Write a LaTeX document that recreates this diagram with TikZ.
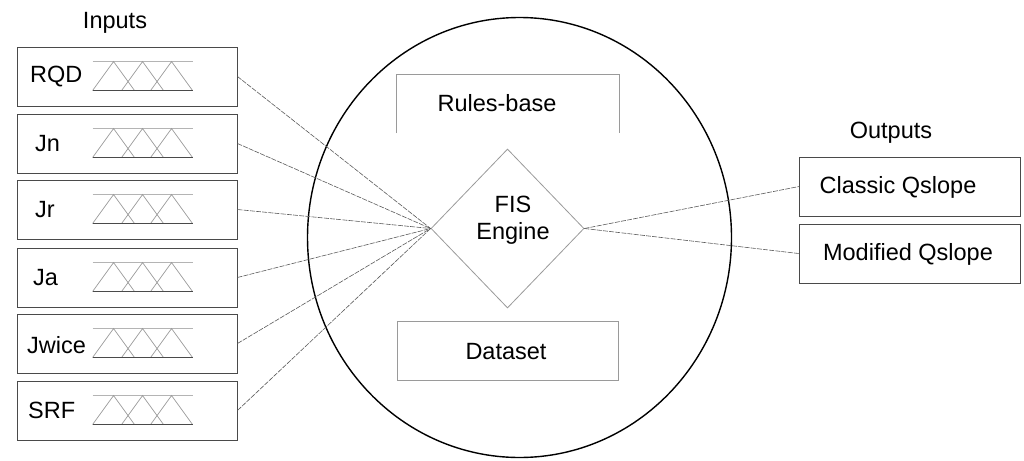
\documentclass[tikz,border=0pt]{standalone}
\usepackage{fontspec}
\setmainfont{Liberation Sans}
\usetikzlibrary{shapes.geometric}

\definecolor{boxgray}{HTML}{4A4A4A}
\definecolor{softgray}{HTML}{9A9A9A}
\definecolor{guidegray}{HTML}{B4B4B4}
\definecolor{linegray}{HTML}{5A5A5A}

\tikzset{
  txt/.style={font=\fontsize{23.5}{27}\selectfont, inner sep=0pt, align=center},
  inbox/.style={draw=boxgray, line width=0.9pt, minimum width=220pt,
                minimum height=59pt, inner sep=0pt},
  outbox/.style={inbox, minimum width=221pt},
  midbox/.style={draw=softgray, line width=0.9pt, minimum width=221pt,
                 minimum height=59pt, inner sep=0pt},
  mfguide/.style={draw=guidegray, line width=0.8pt},
  mfline/.style={draw=softgray, line width=0.7pt},
  mfbase/.style={draw=boxgray, line width=0.8pt},
  conn/.style={draw=linegray, line width=0.6pt, dash pattern=on 5pt off 1.2pt},
}

% three overlapping triangular membership functions inside an input box
\newcommand\membfuncs[1]{%
  \draw[mfguide] ([shift={(76,15)}]#1.north west) -- ++(100,0);
  \foreach \off in {0,29,58}{
    \draw[mfline] ([shift={(76+\off,44)}]#1.north west) -- ++(21,-29) -- ++(21,29);
  }
  \draw[mfbase] ([shift={(76,44)}]#1.north west) -- ++(100,0);
}

\begin{document}
\begin{tikzpicture}[x=1pt, y=-1pt]
  \useasboundingbox (0,0) rectangle (1024,460);

  % inference engine boundary
  \node[draw=black, line width=1.4pt, ellipse, minimum width=424pt,
        minimum height=440pt, inner sep=0pt] (sys) at (519.5,237.5) {};

  % input variables
  \node[txt] (intitle) at (115,23) {Inputs};
  \node[inbox] (rqd) at (127,76.5)  {};
  \node[inbox] (jn)  at (127,143.5) {};
  \node[inbox] (jr)  at (127,209.5) {};
  \node[inbox] (ja)  at (127,277.5) {};
  \node[inbox] (jw)  at (127,343.5) {};
  \node[inbox] (srf) at (127,410.5) {};

  \node[txt, anchor=west] (rqdl) at (30,77)  {RQD};
  \node[txt, anchor=west] (jnl)  at (35,143.5) {Jn};
  \node[txt, anchor=west] (jrl)  at (35,210) {Jr};
  \node[txt, anchor=west] (jal)  at (33,278) {Ja};
  \node[txt, anchor=west] (jwl)  at (27,345) {Jwice};
  \node[txt, anchor=west] (srfl) at (28,410.5) {SRF};

  \foreach \b in {rqd,jn,jr,ja,jw,srf}{\membfuncs{\b}}

  % rule base (open at the bottom)
  \node[minimum width=222pt, minimum height=58pt, inner sep=0pt] (rules) at (508,104) {};
  \draw[draw=softgray, line width=0.9pt]
    (rules.south west) -- (rules.north west) -- (rules.north east) -- (rules.south east);
  \node[txt] (rulesl) at (497,103) {Rules-base};

  % fuzzy inference engine
  \node[diamond, draw=softgray, line width=0.8pt, minimum width=153pt,
        minimum height=159pt, inner sep=0pt] (fis) at (507.5,228.5) {};
  \node[txt] (fisl) at (513,220) {FIS\\Engine};

  % data set
  \node[midbox] (data) at (507.5,350.5) {};
  \node[txt] (datal) at (506,352) {Dataset};

  % outputs
  \node[txt] (outtitle) at (891,133) {Outputs};
  \node[outbox] (classic)  at (910,186.5) {};
  \node[outbox] (modified) at (909.5,253.5) {};
  \node[txt] (classicl)  at (898,187) {Classic Qslope};
  \node[txt] (modifiedl) at (908,254) {Modified Qslope};

  % connections
  \foreach \b in {rqd,jn,jr,ja,jw,srf}{\draw[conn] (\b.east) -- (fis.west);}
  \draw[conn] (fis.east) -- (classic.west);
  \draw[conn] (fis.east) -- (modified.west);
\end{tikzpicture}
\end{document}
